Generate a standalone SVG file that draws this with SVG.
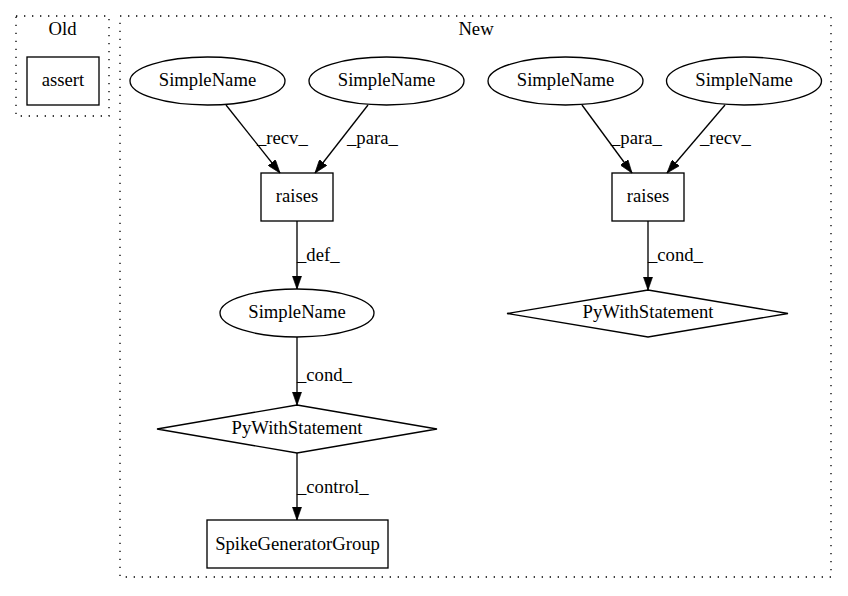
<svg xmlns="http://www.w3.org/2000/svg" width="848" height="596" viewBox="0 0 848 596">
<defs>
<style>
text{font-family:"Liberation Serif","Times New Roman",serif;font-size:18.67px;fill:#000}
.c{text-anchor:middle}
.node{fill:none;stroke:#000;stroke-width:1.33}
.clu{fill:none;stroke:#000;stroke-width:1.33;stroke-dasharray:1.33,6.67}
.edge{fill:none;stroke:#000;stroke-width:1.33}
</style>
<marker id="arr" viewBox="0 0 10 7" refX="10" refY="3.5" markerWidth="13.3" markerHeight="9.3" markerUnits="userSpaceOnUse" orient="auto">
<path d="M0,0 L10,3.5 L0,7 z" fill="#000" stroke="#000" stroke-width="0.5"/>
</marker>
</defs>
<rect width="848" height="596" fill="#fff"/>
<g id="cluster_old">
<rect class="clu" x="16" y="16" width="93" height="100"/>
<text class="c" x="62.5" y="35">Old</text>
</g>
<g id="cluster_new">
<rect class="clu" x="120" y="16" width="711" height="561"/>
<text class="c" x="476" y="35">New</text>
</g>
<g id="n_assert">
<rect class="node" x="27" y="57" width="72" height="48"/>
<text class="c" x="63" y="86">assert</text>
</g>
<g id="n_sn1">
<ellipse class="node" cx="207.5" cy="81" rx="77.5" ry="24"/>
<text class="c" x="207.5" y="86">SimpleName</text>
</g>
<g id="n_sn2">
<ellipse class="node" cx="386.5" cy="81" rx="77.5" ry="24"/>
<text class="c" x="386.5" y="86">SimpleName</text>
</g>
<g id="n_raises1">
<rect class="node" x="261" y="173" width="72" height="48"/>
<text class="c" x="297" y="202">raises</text>
</g>
<g id="n_sn3">
<ellipse class="node" cx="297" cy="313" rx="77" ry="24"/>
<text class="c" x="297" y="318">SimpleName</text>
</g>
<g id="n_with1">
<polygon class="node" points="297,405 437,429 297,453 157,429"/>
<text class="c" x="297" y="434">PyWithStatement</text>
</g>
<g id="n_spike">
<rect class="node" x="207" y="520" width="181" height="48"/>
<text class="c" x="297.5" y="550">SpikeGeneratorGroup</text>
</g>
<g id="n_sn4">
<ellipse class="node" cx="565.5" cy="81" rx="77.5" ry="24"/>
<text class="c" x="565.5" y="86">SimpleName</text>
</g>
<g id="n_sn5">
<ellipse class="node" cx="744" cy="81" rx="77.5" ry="24"/>
<text class="c" x="744" y="86">SimpleName</text>
</g>
<g id="n_raises2">
<rect class="node" x="612" y="173" width="72" height="48"/>
<text class="c" x="648" y="202">raises</text>
</g>
<g id="n_with2">
<polygon class="node" points="648,290 788,313.5 648,337 507,313.5"/>
<text class="c" x="648" y="318">PyWithStatement</text>
</g>
<g id="edges">
<path class="edge" marker-end="url(#arr)" d="M226,105 L280,173"/>
<text x="257" y="144">_recv_</text>
<path class="edge" marker-end="url(#arr)" d="M368,105 L315,173"/>
<text x="347" y="144">_para_</text>
<path class="edge" marker-end="url(#arr)" d="M297,221 L297,289"/>
<text x="297" y="261">_def_</text>
<path class="edge" marker-end="url(#arr)" d="M297,337 L297,405"/>
<text x="297" y="381">_cond_</text>
<path class="edge" marker-end="url(#arr)" d="M297,453 L297,520"/>
<text x="297" y="493">_control_</text>
<path class="edge" marker-end="url(#arr)" d="M582,105 L632,173"/>
<text x="611" y="144">_para_</text>
<path class="edge" marker-end="url(#arr)" d="M725,105 L667,173"/>
<text x="700" y="144">_recv_</text>
<path class="edge" marker-end="url(#arr)" d="M648,221 L648,290"/>
<text x="648" y="261">_cond_</text>
</g>
</svg>
